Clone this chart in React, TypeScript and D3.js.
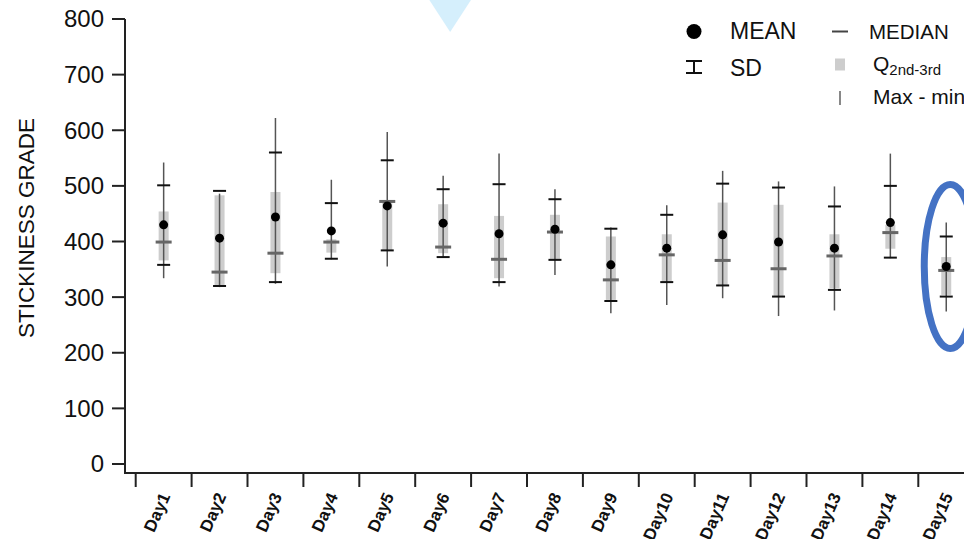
import React from "react";
import * as d3 from "d3";

const days = ["Day1","Day2","Day3","Day4","Day5","Day6","Day7","Day8","Day9","Day10","Day11","Day12","Day13","Day14","Day15"];
const means =   [430, 406, 444, 419, 464, 433, 414, 422, 358, 388, 412, 399, 388, 434, 355];
const medians = [399, 345, 379, 399, 472, 390, 368, 417, 331, 376, 366, 351, 374, 416, 348];
const sdHigh =  [501, 491, 560, 469, 546, 494, 503, 476, 423, 448, 504, 497, 463, 500, 409];
const sdLow =   [358, 320, 327, 369, 384, 372, 327, 367, 293, 327, 321, 301, 313, 371, 301];
const q3 =      [454, 483, 489, 404, 472, 467, 446, 448, 409, 413, 470, 466, 413, 430, 372];
const q1 =      [366, 321, 343, 380, 384, 379, 334, 367, 295, 327, 322, 302, 316, 387, 304];
const maxs =    [542, 486, 622, 511, 597, 518, 558, 494, 425, 465, 527, 508, 499, 558, 434];
const mins =    [334, 318, 324, 368, 355, 371, 319, 340, 271, 286, 298, 266, 276, 370, 274];
const yTicks = [0, 100, 200, 300, 400, 500, 600, 700, 800];

const W = 964;
const H = 539;
const FONT = "'Liberation Sans', Arial, sans-serif";

export default function App() {
  const x = d3.scaleBand<string>().domain(days).range([135.7, 135.7 + 55.9 * 15]).padding(0);
  const y = d3.scaleLinear().domain([0, 800]).range([464, 19]);
  const bw = x.bandwidth();
  const cx = (d: string) => (x(d) as number) + bw / 2;

  const axisY = 473;
  const axisX = 125;

  const hi = days.length - 1;
  const ellCx = cx(days[hi]) + 4;
  const ellCy = y(means[hi]);

  const triX = cx(days[5]) + 7;

  return (
    <svg width={W} height={H} style={{ position: "absolute", left: 0, top: 0, background: "#fff" }} fontFamily={FONT}>
      {/* annotation triangle */}
      <polygon points={`${triX - 26},-8 ${triX + 26},-8 ${triX},32`} fill="#d5effc" />

      {/* y axis */}
      <line x1={axisX} x2={axisX} y1={y(800)} y2={axisY + 1} stroke="#222" strokeWidth={2} />
      {yTicks.map((t) => (
        <g key={t}>
          <line x1={112} x2={axisX} y1={y(t)} y2={y(t)} stroke="#222" strokeWidth={2} />
          <text x={104} y={y(t)} dy="0.35em" textAnchor="end" fontSize={24} fill="#111">{t}</text>
        </g>
      ))}
      <text transform={`translate(34,228) rotate(-90)`} textAnchor="middle" fontSize={22.5} fill="#111">STICKINESS GRADE</text>

      {/* x axis */}
      <line x1={axisX - 1} x2={W} y1={axisY} y2={axisY} stroke="#222" strokeWidth={2} />
      {days.map((d) => (
        <g key={d}>
          <line x1={x(d)} x2={x(d)} y1={axisY} y2={axisY + 14} stroke="#222" strokeWidth={2} />
          <text transform={`translate(${cx(d) + 7},496) rotate(-66)`} textAnchor="end" fontSize={17} fontWeight="bold" fill="#111">{d}</text>
        </g>
      ))}

      {/* data */}
      {days.map((d, i) => {
        const c = cx(d);
        return (
          <g key={d}>
            <rect x={c - 5} width={10} y={y(q3[i])} height={y(q1[i]) - y(q3[i])} fill="#cdcdcd" />
            <line x1={c} x2={c} y1={y(maxs[i])} y2={y(mins[i])} stroke="#555" strokeWidth={1.5} />
            <line x1={c - 8} x2={c + 8} y1={y(medians[i])} y2={y(medians[i])} stroke="#666" strokeWidth={3} />
            <line x1={c - 6.5} x2={c + 6.5} y1={y(sdHigh[i])} y2={y(sdHigh[i])} stroke="#111" strokeWidth={2} />
            <line x1={c - 6.5} x2={c + 6.5} y1={y(sdLow[i])} y2={y(sdLow[i])} stroke="#111" strokeWidth={2} />
            <circle cx={c} cy={y(means[i])} r={4.5} fill="#000" />
          </g>
        );
      })}

      {/* highlight ellipse */}
      <ellipse cx={ellCx} cy={ellCy} rx={26} ry={82} fill="none" stroke="#4472c4" strokeWidth={7} />

      {/* legend */}
      <circle cx={694} cy={31.5} r={7.5} fill="#000" />
      <text x={730} y={38.5} fontSize={23} fill="#111">MEAN</text>
      <line x1={686} x2={702} y1={61} y2={61} stroke="#111" strokeWidth={2} />
      <line x1={686} x2={702} y1={73} y2={73} stroke="#111" strokeWidth={2} />
      <line x1={694} x2={694} y1={61} y2={73} stroke="#111" strokeWidth={2} />
      <text x={730} y={75.5} fontSize={23} fill="#111">SD</text>

      <line x1={832} x2={848} y1={31.5} y2={31.5} stroke="#444" strokeWidth={2} />
      <text x={869} y={39} fontSize={20.5} fill="#111">MEDIAN</text>
      <rect x={835} y={58.5} width={10} height={12} fill="#cdcdcd" />
      <text x={873} y={71} fontSize={21} fill="#111">Q<tspan fontSize={15} dy={4}>2nd-3rd</tspan></text>
      <line x1={840} x2={840} y1={91} y2={105} stroke="#888" strokeWidth={2} />
      <text x={873} y={103.5} fontSize={21} fill="#111">Max - min</text>
    </svg>
  );
}
